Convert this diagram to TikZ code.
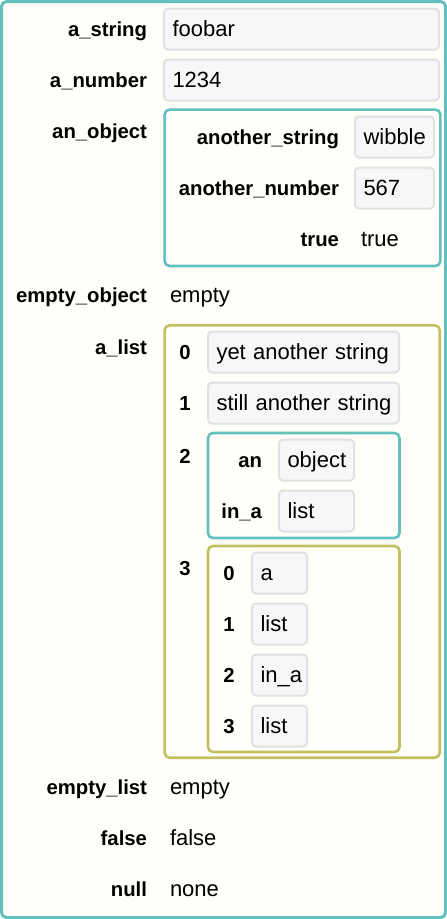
\documentclass[tikz,border=0pt]{standalone}
\usepackage{fontspec}
\setmainfont{Liberation Sans}
\definecolor{tealframe}{HTML}{62C0BF}
\definecolor{oliveframe}{HTML}{C4C062}
\definecolor{pagebg}{HTML}{FFFEF8}
\definecolor{vfill}{HTML}{F7F7FA}
\definecolor{vline}{HTML}{E1E1E3}
\begin{document}
\begin{tikzpicture}[x=1pt,y=-1pt,
  every node/.style={inner sep=0pt, outer sep=0pt},
  keytext/.style={anchor=east, font=\fontsize{20.3}{24}\selectfont\bfseries, text height=17pt, text depth=2pt},
  idxtext/.style={anchor=center, font=\fontsize{20.3}{24}\selectfont\bfseries, text height=17pt, text depth=2pt},
  plaintext/.style={anchor=west, font=\fontsize{22}{26}\selectfont, text height=17pt, text depth=2pt},
  valbox/.style={anchor=west, draw=vline, fill=vfill, line width=2pt, rounded corners=4pt,
    font=\fontsize{22}{26}\selectfont, text height=17pt, text depth=2pt,
    minimum height=41pt, inner xsep=8.5pt, text width=#1, align=left},
  objframe/.style={draw=tealframe, line width=2.6pt, rounded corners=5pt},
  listframe/.style={draw=oliveframe, line width=2.6pt, rounded corners=5pt}
]
\fill[pagebg] (0,0) rectangle (447,919);
\useasboundingbox (0,0) rectangle (447,919);
\draw[tealframe, line width=3pt, rounded corners=5pt] (1.5,1.5) rectangle (445.5,917.5);

% top-level rows
\node[keytext] (k1) at (147,29) {a\_string};
\node[valbox=258pt] (v1) at (164,29) {foobar};
\node[keytext] (k2) at (147,80) {a\_number};
\node[valbox=258pt] (v2) at (164,80) {1234};
\node[keytext] (k3) at (147,131) {an\_object};

% an_object
\draw[objframe] (164.6,109.6) rectangle (440.4,266);
\node[keytext] (k31) at (339,137) {another\_string};
\node[valbox=62pt] (v31) at (355,137) {wibble};
\node[keytext] (k32) at (339,188) {another\_number};
\node[valbox=62pt] (v32) at (355,188) {567};
\node[keytext] (k33) at (339,239) {true};
\node[plaintext] (v33) at (361,239) {true};

\node[keytext] (k4) at (147,295) {empty\_object};
\node[plaintext] (v4) at (170,295) {empty};

% a_list
\node[keytext] (k5) at (147,347) {a\_list};
\draw[listframe] (164.6,325.3) rectangle (439.7,757.7);
\node[idxtext] (i50) at (185,352) {0};
\node[valbox=174pt] (v50) at (208,352) {\mbox{yet another string}};
\node[idxtext] (i51) at (185,403) {1};
\node[valbox=174pt] (v51) at (208,403) {\mbox{still another string}};
\node[idxtext] (i52) at (185,456) {2};
\draw[objframe] (208,433) rectangle (399.5,538);
\node[keytext] (k521) at (262,460) {an};
\node[valbox=58pt] (v521) at (279,460) {object};
\node[keytext] (k522) at (262,511) {in\_a};
\node[valbox=58pt] (v522) at (279,511) {list};
\node[idxtext] (i53) at (185,568) {3};
\draw[listframe] (208,546) rectangle (399.5,752);
\node[idxtext] (i530) at (229,573) {0};
\node[valbox=38pt] (v530) at (252,573) {a};
\node[idxtext] (i531) at (229,624) {1};
\node[valbox=38pt] (v531) at (252,624) {list};
\node[idxtext] (i532) at (229,675) {2};
\node[valbox=38pt] (v532) at (252,675) {in\_a};
\node[idxtext] (i533) at (229,726) {3};
\node[valbox=38pt] (v533) at (252,726) {list};

\node[keytext] (k6) at (147,787) {empty\_list};
\node[plaintext] (v6) at (170,787) {empty};
\node[keytext] (k7) at (147,838) {false};
\node[plaintext] (v7) at (170,838) {false};
\node[keytext] (k8) at (147,889) {null};
\node[plaintext] (v8) at (170,889) {none};
\end{tikzpicture}
\end{document}
